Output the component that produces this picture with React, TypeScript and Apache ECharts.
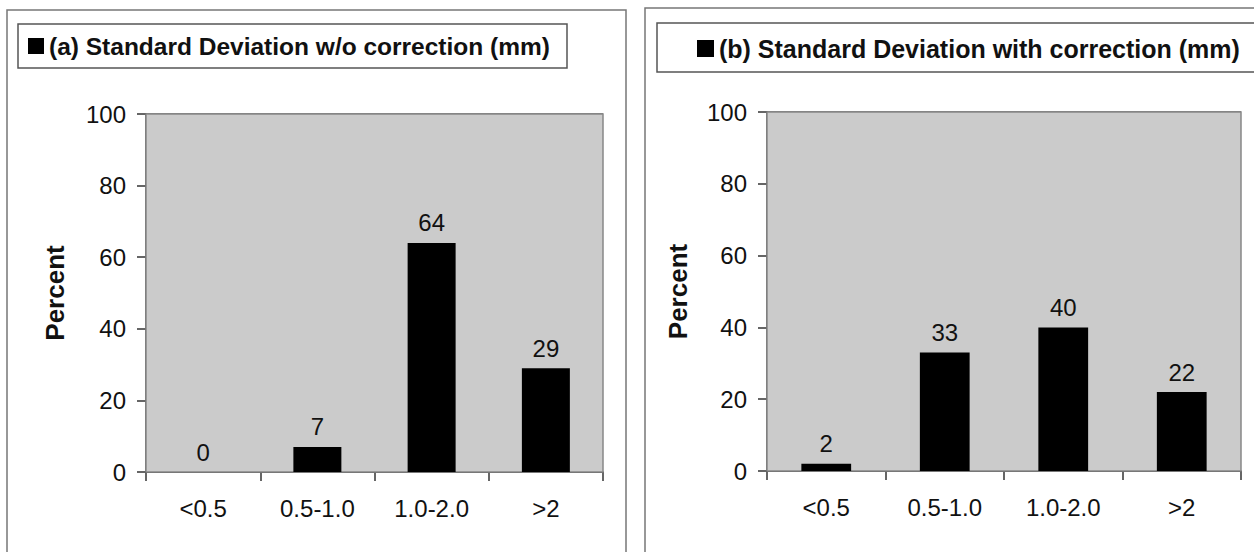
import React, { useEffect, useRef } from "react";
import * as echarts from "echarts";

const categories = ["<0.5", "0.5-1.0", "1.0-2.0", ">2"];
const valuesA = [0, 7, 64, 29];
const valuesB = [2, 33, 40, 22];
const nameA = "(a) Standard Deviation w/o correction (mm)";
const nameB = "(b) Standard Deviation with correction (mm)";
const yMin = 0;
const yMax = 100;
const yInterval = 20;
const yTitle = "Percent";

const FONT = 'Arial, "Liberation Sans", Helvetica, sans-serif';

function makeX(gridIndex: number) {
  return {
    type: "category",
    gridIndex,
    data: categories,
    axisLine: { show: true, lineStyle: { color: "#333", width: 1.5 } },
    axisTick: { show: true, length: 9, lineStyle: { color: "#333", width: 1.5 } },
    axisLabel: { fontSize: 24, color: "#111", margin: 24, fontFamily: FONT },
    splitLine: { show: false },
  };
}

function makeY(gridIndex: number, nameGap: number) {
  return {
    type: "value",
    gridIndex,
    min: yMin,
    max: yMax,
    interval: yInterval,
    name: yTitle,
    nameLocation: "middle",
    nameGap,
    nameRotate: 90,
    nameTextStyle: { fontSize: 26, fontWeight: "bold", color: "#111", fontFamily: FONT },
    axisLine: { show: true, lineStyle: { color: "#333", width: 1.5 } },
    axisTick: { show: true, length: 9, lineStyle: { color: "#333", width: 1.5 } },
    axisLabel: { fontSize: 24, color: "#111", margin: 20, fontFamily: FONT },
    splitLine: { show: true, lineStyle: { color: "#555", width: 1.5 } },
  };
}

function makeSeries(name: string, data: number[], idx: number) {
  return {
    type: "bar",
    name,
    xAxisIndex: idx,
    yAxisIndex: idx,
    data,
    barWidth: "42%",
    itemStyle: { color: "#000" },
    label: {
      show: true,
      position: "top",
      distance: 8,
      fontSize: 24,
      color: "#111",
      fontFamily: FONT,
    },
  };
}

export default function App() {
  const ref = useRef<HTMLDivElement>(null);
  useEffect(() => {
    if (!ref.current) return;
    const chart = echarts.init(ref.current, null, { renderer: "svg" });
    chart.setOption({
      animation: false,
      backgroundColor: "#fff",
      textStyle: { fontFamily: FONT },
      graphic: [
        {
          type: "rect",
          z: 0,
          shape: { x: 7, y: 10, width: 619, height: 560 },
          style: { fill: "#fff", stroke: "#777", lineWidth: 1.5 },
        },
        {
          type: "rect",
          z: 0,
          shape: { x: 645, y: 8, width: 640, height: 560 },
          style: { fill: "#fff", stroke: "#777", lineWidth: 1.5 },
        },
        {
          type: "rect",
          z: 1,
          shape: { x: 18, y: 24, width: 549, height: 44 },
          style: { fill: "#fff", stroke: "#555", lineWidth: 1.5 },
        },
        {
          type: "rect",
          z: 1,
          shape: { x: 657, y: 23, width: 640, height: 49 },
          style: { fill: "#fff", stroke: "#555", lineWidth: 1.5 },
        },
      ],
      legend: [
        {
          data: [nameA],
          left: 28,
          top: 33,
          padding: 0,
          itemWidth: 16,
          itemHeight: 16,
          icon: "rect",
          z: 5,
          textStyle: { fontSize: 24.5, fontWeight: "bold", color: "#111", fontFamily: FONT, lineHeight: 26 },
        },
        {
          data: [nameB],
          left: 697,
          top: 35,
          padding: 0,
          itemWidth: 17,
          itemHeight: 17,
          icon: "rect",
          z: 5,
          textStyle: { fontSize: 25, fontWeight: "bold", color: "#111", fontFamily: FONT, lineHeight: 27 },
        },
      ],
      grid: [
        {
          left: 146,
          top: 114,
          width: 457,
          height: 358,
          show: true,
          backgroundColor: "#cbcbcb",
          borderColor: "#888",
          borderWidth: 1.5,
          z: 2,
        },
        {
          left: 767,
          top: 112,
          width: 474,
          height: 359,
          show: true,
          backgroundColor: "#cbcbcb",
          borderColor: "#888",
          borderWidth: 1.5,
          z: 2,
        },
      ],
      xAxis: [makeX(0), makeX(1)],
      yAxis: [makeY(0, 78), makeY(1, 76)],
      series: [makeSeries(nameA, valuesA, 0), makeSeries(nameB, valuesB, 1)],
    });
    return () => chart.dispose();
  }, []);
  return (
    <div
      ref={ref}
      style={{ position: "fixed", left: 0, top: 0, width: 1254, height: 552 }}
    />
  );
}
